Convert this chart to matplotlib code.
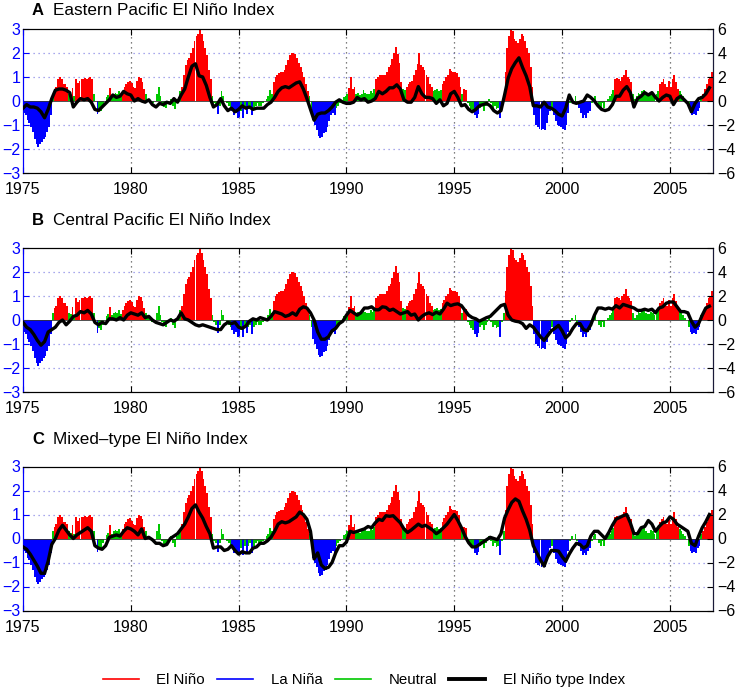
import numpy as np
import matplotlib.pyplot as plt
from matplotlib.lines import Line2D

plt.rcParams['font.family'] = ['Liberation Sans', 'DejaVu Sans']

# monthly Nino index (left axis), Jan 1975 .. Dec 2006, one row per year
index_vals = [
    -0.5, -0.6, -0.8, -0.9, -1.1, -1.3, -1.6, -1.8, -1.9, -1.8, -1.7, -1.6,   # 1975
    -1.5, -1.3, -1.1, -0.6, 0.3, 0.5, 0.6, 0.9, 1.0, 0.9, 0.7, 0.7,           # 1976
    0.6, 0.3, 0.25, 0.55, 0.2, 0.9, 0.75, 0.85, 0.9, 0.9, 0.95, 0.9,          # 1977
    0.95, 1.0, 0.9, 0.3, 0.0, -0.55, -0.35, -0.4, -0.2, 0.0, 0.15, 0.25,      # 1978
    0.55, 0.2, 0.3, 0.35, 0.3, 0.4, 0.25, 0.4, 0.6, 0.7, 0.8, 0.85,           # 1979
    0.75, 0.6, 0.55, 0.85, 1.0, 0.95, 0.8, 0.5, 0.3, 0.1, 0.05, -0.1,         # 1980
    -0.1, 0.0, 0.3, 0.6, 0.2, -0.1, -0.25, -0.3, -0.1, 0.0, 0.1, -0.2,        # 1981
    -0.35, 0.1, 0.15, 0.4, 0.6, 1.1, 1.5, 1.7, 1.8, 2.0, 2.2, 2.5,            # 1982
    2.7, 2.8, 2.95, 2.8, 2.5, 2.2, 1.9, 1.3, 0.9, 0.2, -0.1, -0.2,            # 1983
    -0.55, -0.2, 0.4, 0.2, 0.0, -0.1, -0.2, -0.3, -0.4, -0.6, -0.5, -0.7,     # 1984
    -0.65, -0.4, -0.7, -0.3, -0.55, -0.3, -0.2, -0.6, -0.3, -0.2, -0.1, -0.2, # 1985
    -0.2, -0.1, 0.0, 0.1, 0.2, 0.45, 0.3, 0.8, 1.0, 1.1, 1.15, 1.2,           # 1986
    1.2, 1.3, 1.5, 1.7, 1.9, 2.0, 2.0, 1.95, 1.8, 1.6, 1.4, 1.2,              # 1987
    1.0, 0.7, 0.4, 0.2, -0.3, -0.8, -1.0, -1.2, -1.45, -1.55, -1.5, -1.35,    # 1988
    -1.3, -1.1, -0.85, -0.6, -0.5, -0.6, -0.3, -0.2, -0.1, 0.0, 0.15, 0.2,    # 1989
    0.3, 0.55, 1.0, 0.5, 0.6, 0.3, 0.35, 0.25, 0.3, 0.45, 0.35, 0.3,          # 1990
    0.3, 0.4, 0.35, 0.5, 0.9, 1.0, 1.1, 1.1, 1.1, 1.1, 1.2, 1.4,              # 1991
    1.5, 1.75, 2.0, 2.25, 1.95, 1.6, 0.8, 0.5, 0.45, 0.6, 0.7, 0.8,           # 1992
    0.85, 1.1, 1.3, 1.55, 2.0, 1.5, 1.4, 1.3, 1.1, 1.0, 0.7, 0.6,             # 1993
    0.4, 0.45, 0.5, 0.4, 0.45, 0.7, 0.85, 1.0, 1.1, 1.35, 1.25, 1.2,          # 1994
    1.2, 1.15, 1.0, 0.6, 0.3, 0.5, 0.45, -0.1, -0.2, -0.35, -0.4, -0.6,       # 1995
    -0.7, -0.55, -0.3, -0.2, -0.4, -0.2, -0.1, 0.1, -0.1, -0.3, -0.2, -0.35,  # 1996
    -0.3, -0.7, -0.1, 0.3, 1.2, 2.2, 2.7, 3.0, 2.9, 2.6, 2.5, 2.4,            # 1997
    2.6, 2.8, 2.7, 2.5, 2.2, 2.0, 1.4, 0.6, -0.6, -1.0, -1.1, -1.15,          # 1998
    -1.2, -1.15, -1.2, -0.9, -0.6, -0.4, -0.3, -0.6, -0.85, -1.0, -1.05, -1.1,  # 1999
    -1.15, -1.2, -1.0, -0.5, -0.1, 0.1, 0.0, 0.2, -0.1, -0.3, -0.5, -0.7,     # 2000
    -0.6, -0.7, -0.5, -0.4, -0.1, 0.1, 0.2, 0.0, -0.2, -0.3, -0.1, -0.3,      # 2001
    0.0, 0.1, 0.2, 0.3, 0.45, 0.9, 0.95, 0.9, 0.85, 1.0, 1.1, 1.3,            # 2002
    1.0, 0.9, 0.8, 0.3, 0.1, 0.2, 0.35, 0.3, 0.4, 0.45, 0.3, 0.25,            # 2003
    0.25, 0.35, 0.3, 0.2, 0.3, 0.4, 0.7, 0.8, 0.9, 0.7, 0.6, 0.85,            # 2004
    0.6, 0.9, 1.1, 0.8, 0.5, 0.4, 0.3, 0.2, 0.1, 0.0, -0.3, -0.5,             # 2005
    -0.6, -0.55, -0.6, -0.4, -0.3, 0.2, 0.3, 0.5, 0.7, 0.9, 1.0, 1.2,         # 2006
]

# phase of each month: E = El Nino, L = La Nina, N = neutral
phase = [
    "LLLLLLLLLLLL", "LLLLNEEEEEEE", "ENNENEEEEEEE", "EEENNLNNNNNN",
    "ENNNNNNEEEEE", "EEEEEEEENNNN", "NNNNNNNNNNNN", "NNNNEEEEEEEE",
    "EEEEEEEEENNN", "LNNNNNNNLLLL", "LNLNLNNLNNNN", "NNNNNNNEEEEE",
    "EEEEEEEEEEEE", "EEENNLLLLLLL", "LLLLLLNNNNNN", "NEEEENNNNNNN",
    "NNNNEEEEEEEE", "EEEEEEENNEEE", "EEEEEEEEEEEE", "NNNNNEEEEEEE",
    "EEEENEENNNNL", "LLNNNNNNNNNN", "NLNNEEEEEEEE", "EEEEEEEELLLL",
    "LLLLLLNLLLLL", "LLLLNNNNNLLL", "LLLLNNNNNNNN", "NNNNNEEEEEEE",
    "EEENNNNNNNNN", "NNNNNNEEEEEE", "EEEEENNNNNNL", "LLLLLNEEEEEE",
]

# El Nino type indices (right axis), every second month from Jan 1975
ep_index = [
    -0.6, -0.3, -0.5, -0.5, -0.6, -0.9,   # 1975
    -1.4, -0.7, 0.2, 0.9, 1.0, 1.0,       # 1976
    0.9, 0.7, -0.5, -0.1, 0.2, 0.1,       # 1977
    0.2, -0.1, -0.7, -0.8, -0.5, -0.2,    # 1978
    0.1, 0.5, 0.3, 0.4, 0.8, 0.6,         # 1979
    0.5, 0.0, 0.2, 0.0, -0.1, 0.1,        # 1980
    -0.3, -0.5, -0.2, -0.3, -0.1, -0.2,   # 1981
    0.2, -0.1, 0.5, 1.0, 2.0, 2.9,        # 1982
    3.1, 2.1, 2.0, 1.3, 0.3, -0.5,        # 1983
    -0.3, 0.2, -0.4, -0.8, -0.6, -0.9,    # 1984
    -0.7, -0.4, -0.6, -0.5, -0.7, -0.6,   # 1985
    -0.6, -0.6, -0.3, -0.1, 0.3, 0.8,     # 1986
    1.1, 1.2, 1.1, 1.3, 1.5, 1.6,         # 1987
    1.0, 0.2, -0.7, -1.6, -1.1, -1.0,     # 1988
    -1.0, -0.8, -0.5, -0.1, 0.1, -0.1,    # 1989
    -0.2, -0.2, -0.1, 0.3, 0.1, 0.2,      # 1990
    -0.1, 0.0, 0.2, 0.8, 0.6, 0.8,        # 1991
    1.1, 1.1, 1.35, 1.0, 0.1, -0.1,       # 1992
    -0.1, 0.3, 1.2, 0.6, 0.3, 0.3,        # 1993
    0.2, -0.2, 0.1, -0.4, -0.2, 0.6,      # 1994
    0.8, 0.3, -0.4, -0.3, -0.7, -0.9,     # 1995
    -0.7, -0.4, -0.3, -0.2, -0.4, -0.8,   # 1996
    -1.0, -0.8, 0.5, 1.9, 2.7, 3.2,       # 1997
    3.6, 2.8, 2.1, 1.2, -0.4, -0.4,       # 1998
    -0.5, -0.1, -0.5, -0.6, -0.8, -1.1,   # 1999
    -1.25, -0.6, 0.5, -0.1, -0.2, -0.1,   # 2000
    0.0, 0.5, 0.3, 0.0, -0.4, -0.7,       # 2001
    -0.8, -0.7, -0.3, 0.4, 0.4, 0.9,      # 2002
    1.2, 0.7, -0.5, 0.2, 0.4, 0.7,        # 2003
    0.5, 0.7, 0.3, 0.0, 0.3, 0.5,         # 2004
    0.4, -0.3, 0.2, 0.4, 0.1, -0.2,       # 2005
    -0.9, -0.2, 0.2, 0.3, 0.6, 1.1,       # 2006
]

cp_index = [
    -0.2, -0.6, -0.8, -1.2, -1.7, -2.1,   # 1975
    -1.8, -1.0, -0.8, -0.6, -0.2, 0.0,    # 1976
    -0.4, -0.1, 0.3, 0.4, 0.7, 0.6,       # 1977
    0.8, 0.5, -0.2, -0.4, -0.2, -0.3,     # 1978
    0.1, 0.1, 0.0, 0.2, 0.0, 0.4,         # 1979
    0.6, 0.5, 0.4, 0.6, 0.2, 0.3,         # 1980
    0.0, -0.2, -0.3, -0.4, -0.2, 0.0,     # 1981
    -0.1, 0.1, 0.6, 0.1, 0.0, -0.2,       # 1982
    -0.4, -0.5, -0.4, -0.5, -0.6, -0.7,   # 1983
    -0.8, -0.8, -0.4, -0.2, -0.3, -0.2,   # 1984
    -0.6, -0.7, -0.5, -0.1, 0.1, 0.0,     # 1985
    0.2, 0.1, 0.0, 0.3, 0.7, 0.6,         # 1986
    0.5, 0.3, 0.4, 0.6, 0.4, 0.9,         # 1987
    1.1, 1.0, 0.6, 0.0, -1.0, -1.6,       # 1988
    -1.6, -1.4, -0.9, -0.7, -0.3, -0.1,   # 1989
    0.4, 0.8, 0.6, 0.4, 0.6, 1.0,         # 1990
    1.0, 1.1, 0.85, 0.85, 1.1, 1.05,      # 1991
    0.8, 0.9, 0.7, 0.5, 0.6, 0.7,         # 1992
    0.4, 0.5, 0.0, 0.3, 0.5, 0.6,         # 1993
    0.45, 0.65, 0.5, 0.9, 1.4, 1.2,       # 1994
    1.3, 1.35, 1.2, 0.8, 0.4, 0.2,        # 1995
    0.1, -0.1, 0.05, 0.2, 0.3, 0.6,       # 1996
    0.9, 1.2, 1.3, 0.4, 0.0, -0.1,        # 1997
    -0.15, -0.3, -0.7, -0.4, -0.6, -1.0,  # 1998
    -1.4, -1.7, -1.3, -0.9, -0.7, -0.45,  # 1999
    -0.9, -1.5, -1.2, -0.7, -0.3, -0.3,   # 2000
    -0.8, -0.9, -0.4, 0.4, 1.0, 1.0,      # 2001
    0.9, 1.0, 0.9, 1.2, 1.0, 1.3,         # 2002
    1.2, 1.1, 1.0, 0.8, 0.8, 0.9,         # 2003
    0.8, 0.9, 0.6, 1.0, 1.1, 1.4,         # 2004
    1.5, 1.5, 1.1, 0.7, 0.7, 0.6,         # 2005
    -0.1, -0.6, -0.3, 0.4, 1.0, 1.15,     # 2006
]

mixed_index = [
    -0.7, -0.9, -1.3, -1.8, -2.3, -2.9,   # 1975
    -2.9, -1.9, -0.5, 0.0, 0.7, 1.1,      # 1976
    0.7, 0.3, 0.0, 0.3, 0.5, 0.7,         # 1977
    0.9, 0.6, -0.6, -0.8, -0.9, -0.6,     # 1978
    0.1, 0.2, 0.3, 0.2, 0.6, 0.9,         # 1979
    0.8, 0.6, 0.3, 0.8, 0.0, 0.1,         # 1980
    -0.1, -0.4, -0.4, -0.6, -0.5, 0.0,    # 1981
    0.2, 0.4, 0.8, 1.2, 1.8, 2.5,         # 1982
    2.8, 2.2, 1.7, 1.0, 0.4, -0.8,        # 1983
    -0.7, -0.7, -1.0, -0.9, -0.6, -1.0,   # 1984
    -1.3, -1.1, -1.2, -1.2, -0.8, -0.7,   # 1985
    -0.4, -0.4, -0.2, 0.1, 0.6, 1.2,      # 1986
    1.4, 1.3, 1.4, 1.6, 1.8, 2.2,         # 1987
    2.0, 1.6, 0.6, -1.7, -1.2, -2.2,      # 1988
    -2.5, -2.4, -2.0, -1.2, -0.6, -0.6,   # 1989
    -0.3, 0.6, 0.5, 0.6, 0.7, 0.8,        # 1990
    1.0, 0.9, 1.3, 1.6, 1.5, 1.9,         # 1991
    1.85, 1.9, 1.6, 1.3, 0.8, 0.5,        # 1992
    0.7, 0.95, 1.2, 1.0, 1.1, 0.9,        # 1993
    0.7, 0.4, 0.6, 0.9, 1.2, 1.6,         # 1994
    2.0, 1.5, 0.9, 0.2, -0.35, -0.7,      # 1995
    -0.7, -0.5, -0.3, -0.1, 0.1, 0.0,     # 1996
    -0.1, 0.4, 1.7, 2.4, 3.0, 3.3,        # 1997
    3.1, 2.3, 1.6, 0.7, -0.6, -1.2,       # 1998
    -1.8, -2.3, -1.5, -1.0, -1.0, -1.05,  # 1999
    -1.5, -1.9, -1.3, -0.8, -0.4, -0.5,   # 2000
    -0.8, -0.6, 0.2, 0.6, 0.6, 0.3,       # 2001
    0.0, 0.5, 1.1, 1.6, 1.75, 1.9,        # 2002
    2.0, 1.3, 0.4, 0.4, 0.9, 1.0,         # 2003
    1.5, 1.2, 0.6, 1.0, 1.3, 1.4,         # 2004
    1.8, 1.6, 1.2, 1.0, 0.8, 0.6,         # 2005
    -0.4, -0.6, 0.2, 0.9, 1.4, 2.0,       # 2006
]

panel_letters = ['A', 'B', 'C']
panel_titles = ['Eastern Pacific El Niño Index',
                'Central Pacific El Niño Index',
                'Mixed\u2013type El Niño Index']
type_lines = [ep_index, cp_index, mixed_index]

phase_colors = {'E': '#ff0000', 'L': '#0000ff', 'N': '#00c800'}
months = 1975 + np.arange(len(index_vals)) / 12
t2 = 1975 + np.arange(len(ep_index)) * 2 / 12
bar_colors = [phase_colors[c] for c in ''.join(phase)]

fig = plt.figure(figsize=(7.37, 6.92), dpi=100)
W, H = 737, 692
ax_tops = [29, 248, 466.5]
title_base = [15, 225, 444]
ax_h = 144

for i in range(3):
    top = ax_tops[i]
    ax = fig.add_axes([23 / W, 1 - (top + ax_h) / H, 690 / W, ax_h / H])
    ax.bar(months, index_vals, width=1 / 12, align='edge',
           color=bar_colors, linewidth=0, zorder=2)
    ax.set_xlim(1975, 2007)
    ax.set_ylim(-3, 3)
    ax.set_yticks(range(-3, 4))
    ax.set_xticks(range(1975, 2006, 5))
    for y in [-2, -1, 1, 2]:
        ax.axhline(y, color='#8c8ce6', ls=(0, (1, 3)), lw=0.9, zorder=1)
    for x in range(1980, 2006, 5):
        ax.axvline(x, color='#555555', ls=(0, (1, 3)), lw=0.9, zorder=1)
    ax.axhline(0, color='#333333', lw=0.6, zorder=3)
    ax.tick_params(axis='y', colors='blue', labelsize=11.5, direction='in',
                   pad=2, length=4)
    ax.tick_params(axis='x', direction='in', top=True, labelsize=11.5,
                   pad=6.5, length=4)
    ax.spines['left'].set_color('blue')

    ax2 = ax.twinx()
    ax2.plot(t2, type_lines[i], color='black', lw=2.4, zorder=4)
    ax2.set_ylim(-6, 6)
    ax2.set_yticks(range(-6, 7, 2))
    ax2.tick_params(direction='in', labelsize=11.5, pad=3, length=4)
    ax2.spines['right'].set_color('#1a1a3a')
    ax2.spines['left'].set_color('blue')

    fig.text(32 / W, 1 - title_base[i] / H, panel_letters[i],
             fontsize=12, fontweight='bold', va='baseline', ha='left')
    fig.text(53 / W, 1 - title_base[i] / H, panel_titles[i],
             fontsize=12.3, va='baseline', ha='left')

handles = [Line2D([], [], color='#ff0000', lw=1.2),
           Line2D([], [], color='#0000ff', lw=1.2),
           Line2D([], [], color='#00c800', lw=1.2),
           Line2D([], [], color='black', lw=2.8)]
labels = ['El Niño', 'La Niña', 'Neutral', 'El Niño type Index']
fig.legend(handles, labels, loc='center', bbox_to_anchor=(364 / W, 1 - 680 / H),
           ncol=4, frameon=False, fontsize=10.8, handlelength=2.4,
           columnspacing=0.8, handletextpad=1.2)

fig.savefig('out.png', dpi=100)
